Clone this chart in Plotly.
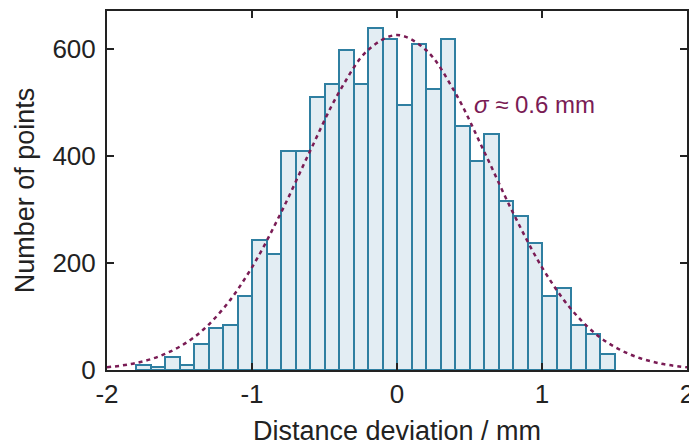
import plotly.graph_objects as go

# histogram bins (centres, width 0.1 mm) and counts
bin_centers = [-1.75, -1.65, -1.55, -1.45, -1.35, -1.25, -1.15, -1.05, -0.95, -0.85,
               -0.75, -0.65, -0.55, -0.45, -0.35, -0.25, -0.15, -0.05, 0.05, 0.15,
               0.25, 0.35, 0.45, 0.55, 0.65, 0.75, 0.85, 0.95, 1.05, 1.15,
               1.25, 1.35, 1.45]
counts = [9, 5, 24, 9, 49, 78, 84, 139, 243, 217,
          410, 410, 510, 535, 599, 535, 639, 619, 495, 610,
          525, 619, 456, 391, 441, 316, 287, 237, 139, 154,
          84, 68, 29]

# dotted fit curve
fit_x = [-2.0, -1.8, -1.6, -1.4, -1.2, -1.0, -0.8, -0.6, -0.4, -0.2, 0.0,
         0.2, 0.4, 0.6, 0.8, 1.0, 1.2, 1.4, 1.6, 1.8, 2.0]
fit_y = [5, 13, 30, 61, 114, 192, 294, 409, 519, 598, 626,
         598, 519, 409, 294, 192, 114, 61, 30, 13, 5]

x_ticks = [-2, -1, 0, 1, 2]
x_ticktext = ['-2', '-1', '0', '1', '2']
y_ticks = [0, 200, 400, 600]

fit_color = '#7a1c55'
font_family = 'Arial, Liberation Sans, sans-serif'

fig = go.Figure()

fig.add_trace(go.Bar(
    x=bin_centers,
    y=counts,
    width=0.1,
    marker=dict(color='#e3edf3', line=dict(color='#2f7fa1', width=2)),
    showlegend=False
))

fig.add_trace(go.Scatter(
    x=fit_x,
    y=fit_y,
    mode='lines',
    line=dict(color=fit_color, width=2.5, dash='4px,4px', shape='spline'),
    showlegend=False
))

fig.add_annotation(
    x=0.52, y=497, xref='x', yref='y',
    text='<i>σ</i> ≈ 0.6 mm',
    showarrow=False, xanchor='left', yanchor='middle',
    font=dict(size=24, color=fit_color, family=font_family)
)

axis_style = dict(
    showline=True, linecolor='#222222', linewidth=2, mirror='ticks',
    ticks='inside', ticklen=7, tickwidth=2, tickcolor='#222222',
    showgrid=False, zeroline=False, automargin=False,
    ticklabeloverflow='allow',
    tickfont=dict(size=26, color='#222222', family=font_family),
)

# page body adds an 8px offset, so the figure is a bit smaller than the window
fig.update_layout(
    width=689, height=439,
    margin=dict(l=99, r=10, t=3, b=77),
    plot_bgcolor='white', paper_bgcolor='white',
    bargap=0,
    font=dict(family=font_family, color='#222222'),
    xaxis=dict(range=[-2, 2], tickvals=x_ticks, ticktext=x_ticktext,
               title=dict(text='Distance deviation / mm', font=dict(size=27), standoff=13),
               **axis_style),
    yaxis=dict(range=[0, 671], tickvals=y_ticks, ticklabelstandoff=4,
               title=dict(text='Number of points', font=dict(size=27), standoff=10),
               **axis_style),
)

fig.write_html("out.html")
